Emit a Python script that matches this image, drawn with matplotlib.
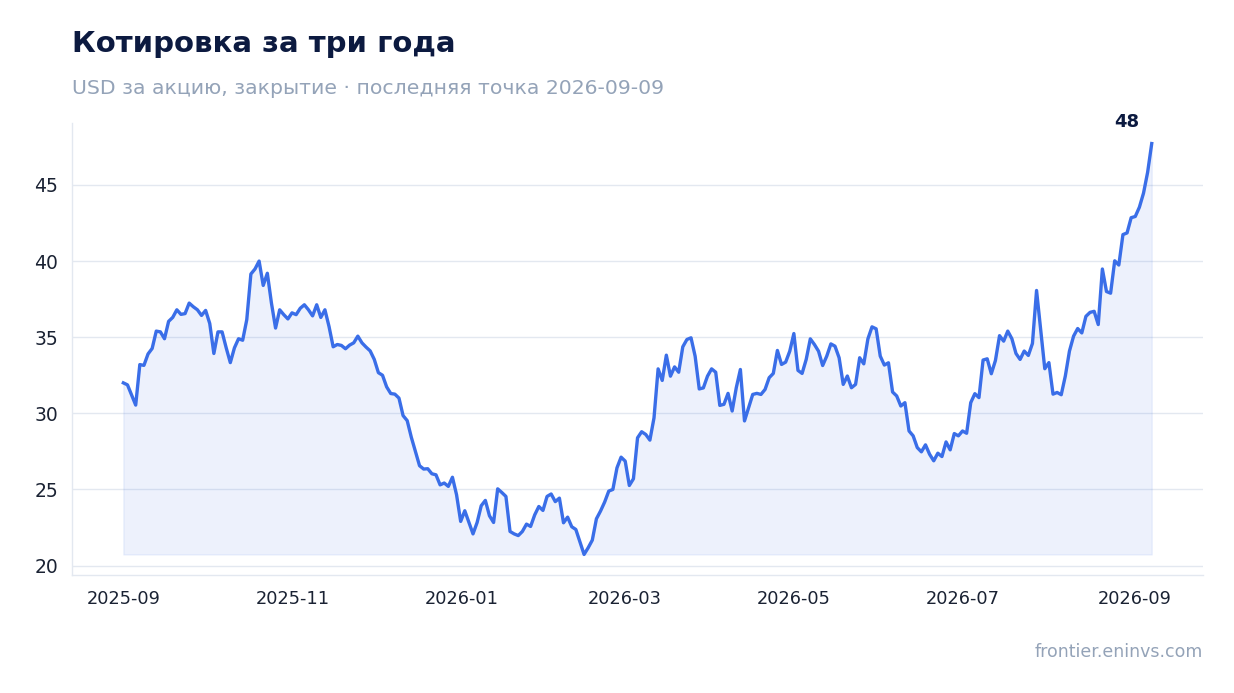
import pandas as pd
import matplotlib.pyplot as plt
import matplotlib.dates as mdates

# closing price, USD per share
seg_sep_oct = [32.0, 31.87, 31.2, 30.54, 33.2, 33.15, 33.9, 34.26, 35.4, 35.35, 34.9, 36.04,
               36.3, 36.8, 36.5, 36.55, 37.24, 37.0, 36.8, 36.43, 36.76, 35.9, 33.93, 35.35,
               35.35, 34.3, 33.33, 34.3, 34.9, 34.8, 36.15, 39.15, 39.48, 40.0, 38.4]
seg_oct_dec = [39.2, 37.24, 35.6, 36.8, 36.48, 36.2, 36.6, 36.48, 36.9, 37.13, 36.8, 36.4,
               37.13, 36.3, 36.8, 35.7, 34.37, 34.52, 34.46, 34.24, 34.48, 34.63, 35.07, 34.63,
               34.35, 34.1, 33.54, 32.67, 32.5, 31.74, 31.3, 31.26, 31.0, 29.85, 29.52, 28.43]
seg_dec_feb = [27.5, 26.56, 26.34, 26.36, 26.03, 25.96, 25.3, 25.42, 25.2, 25.8, 24.65, 22.9,
               23.6, 22.83, 22.08, 22.83, 23.93, 24.28, 23.27, 22.83, 25.04, 24.8, 24.54, 22.24,
               22.08, 21.97, 22.24, 22.72, 22.57, 23.33, 23.88, 23.62, 24.54, 24.7, 24.2, 24.43]
seg_feb_apr = [22.81, 23.18, 22.55, 22.37, 21.56, 20.73, 21.17, 21.67, 23.07, 23.58, 24.17, 24.89,
               25.0, 26.42, 27.12, 26.86, 25.26, 25.7, 28.39, 28.79, 28.61, 28.24, 29.7, 32.92,
               32.16, 33.82, 32.44, 33.05, 32.7, 34.37, 34.85, 34.96, 33.75, 31.6, 31.67, 32.44, 32.92]
seg_apr_jun = [32.7, 30.52, 30.59, 31.31, 30.15, 31.68, 32.88, 29.5, 30.37, 31.24, 31.31, 31.24,
               31.57, 32.34, 32.62, 34.13, 33.21, 33.36, 34.08, 35.24, 32.82, 32.62, 33.54, 34.89,
               34.52, 34.08, 33.14, 33.76, 34.56, 34.41, 33.65, 31.9, 32.45, 31.68, 31.9]
seg_jun_jul = [33.65, 33.25, 34.89, 35.68, 35.55, 33.76, 33.17, 33.32, 31.4, 31.14, 30.48, 30.7,
               28.84, 28.52, 27.75, 27.47, 27.93, 27.31, 26.88, 27.38, 27.16, 28.12, 27.6, 28.67,
               28.52, 28.84, 28.69, 30.7, 31.29, 31.03, 33.5, 33.58, 32.6, 33.47, 35.1, 34.74]
seg_jul_sep = [35.4, 34.9, 33.93, 33.54, 34.09, 33.8, 34.59, 38.07, 35.5, 32.93, 33.33, 31.26,
               31.37, 31.22, 32.46, 34.09, 35.07, 35.57, 35.28, 36.37, 36.63, 36.7, 35.83, 39.48,
               38.0, 37.89, 40.02, 39.74, 41.74, 41.85, 42.85, 42.93, 43.54, 44.46, 45.83, 47.72]

prices = (seg_sep_oct + seg_oct_dec + seg_dec_feb + seg_feb_apr
          + seg_apr_jun + seg_jun_jul + seg_jul_sep)
dates = pd.date_range('2025-09-01', '2026-09-07', periods=len(prices))

title = 'Котировка за три года'
subtitle = 'USD за акцию, закрытие · последняя точка 2026-09-09'
source = 'frontier.eninvs.com'

line_color = '#3a6ee8'
navy = '#0c1a40'
muted = '#94a3b8'
grid_color = '#e3e8f0'

fig = plt.figure(figsize=(12.34, 6.93), dpi=100)
ax = fig.add_axes([0.0583, 0.1703, 0.9167, 0.6522])

ax.plot(dates, prices, color=line_color, lw=2.4, zorder=3)
ax.fill_between(dates, prices, min(prices), color=line_color, alpha=0.09, lw=1, zorder=2)

ax.annotate(f'{prices[-1]:.0f}', (dates[-1], prices[-1]), xytext=(-12, 22),
            textcoords='offset pixels', ha='right', va='center',
            fontsize=13, fontweight='bold', color=navy)

ax.xaxis.set_major_locator(mdates.MonthLocator(bymonth=[1, 3, 5, 7, 9, 11]))
ax.xaxis.set_major_formatter(mdates.DateFormatter('%Y-%m'))
ax.set_yticks([20, 25, 30, 35, 40, 45])

ax.grid(axis='y', color=grid_color, lw=1)
ax.set_axisbelow(True)
for side in ['top', 'right']:
    ax.spines[side].set_visible(False)
for side in ['left', 'bottom']:
    ax.spines[side].set_color(grid_color)
    ax.spines[side].set_linewidth(1)
ax.tick_params(axis='x', length=0, labelsize=12.8, colors='#1a2233', pad=11)
ax.tick_params(axis='y', length=0, labelsize=13.5, colors='#1a2233', pad=10)

fig.text(0.0583, 0.936, title, fontsize=21, fontweight='bold', color=navy, va='center')
fig.text(0.0583, 0.873, subtitle, fontsize=14.7, color=muted, va='center')
fig.text(0.975, 0.059, source, fontsize=12.5, color=muted, ha='right', va='center')

fig.savefig('out.png', dpi=100)
